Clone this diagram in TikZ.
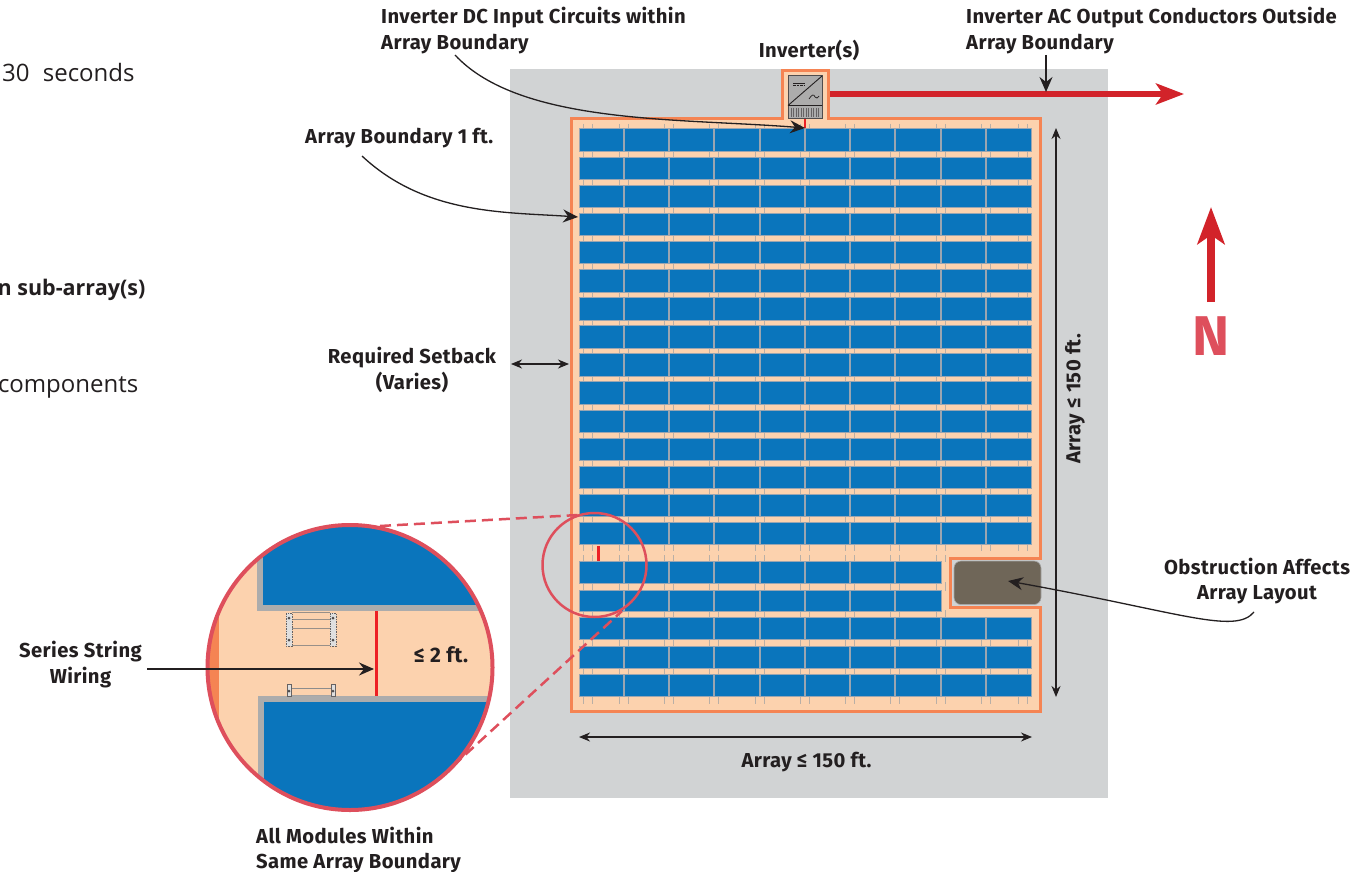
\documentclass[tikz,border=0pt]{standalone}
\usepackage{fontspec}
\setmainfont{Open Sans}
\newfontfamily\lblfont[LetterSpace=2]{Fira Sans}
\usetikzlibrary{arrows.meta}
\definecolor{ground}{HTML}{D1D3D4}
\definecolor{peach}{HTML}{FCD2AE}
\definecolor{bound}{HTML}{F58453}
\definecolor{panel}{HTML}{0A75BC}
\definecolor{pedge}{HTML}{9AA5B1}
\definecolor{wire}{HTML}{ED2024}
\definecolor{acred}{HTML}{D2232A}
\definecolor{rose}{HTML}{DE4F5C}
\definecolor{obst}{HTML}{6F6658}
\definecolor{ink}{HTML}{231F20}
\definecolor{tickc}{HTML}{B9AFA6}
\tikzset{
  lbl/.style={font=\lblfont\bfseries\fontsize{20.2}{25.5}\selectfont,text=ink,inner sep=0pt,align=center},
  lbll/.style={lbl,align=left},
  para/.style={font=\fontsize{24}{27}\selectfont,text=ink,inner sep=0pt},
  leader/.style={draw=ink,line width=1.3pt,-{Stealth[length=15pt,width=13pt,inset=5pt]}},
  dbl/.style={draw=ink,line width=1.1pt,{Stealth[length=11pt,width=9pt,inset=3.5pt]}-{Stealth[length=11pt,width=9pt,inset=3.5pt]}},
  pnl/.style={fill=panel,draw=pedge,line width=1pt},
  clip tick/.style={draw=tickc,line width=0.9pt},
  dashrose/.style={draw=rose,line width=2.5pt,dash pattern=on 11pt off 6pt},
}
\begin{document}
\begin{tikzpicture}[x=1pt,y=-1pt]
\useasboundingbox (0,0) rectangle (1370,872);
\fill[white] (0,0) rectangle (1370,872);
% ground
\fill[ground] (510,69) rectangle (1108,798);
% array boundary
\draw[fill=peach,draw=bound,line width=3pt,miter limit=4]
  (571,119) -- (782,119) -- (782,71) -- (828,71) -- (828,119) -- (1040,119) -- (1040,558)
  -- (950,558) -- (950,607) -- (1040,607) -- (1040,711) -- (571,711) -- cycle;
% obstruction
\draw[fill=obst,draw=gray!70,line width=0.6pt,rounded corners=7pt] (954,561) rectangle (1041,604.5);
% module clips in the row gaps (drawn beneath the panels)
\foreach \yt/\yb in {124/130,
  150/158,178/186,206/214,234/242,262/270,290/298,318/326,
  346/354,374/382,402/410,430/438,458/466,486/494,515/523,
  545/551,638/647,667/675,696/704} {
  \foreach \cx in {588,624,669,714,760,805,850,895,941,986,1023} {
    \draw[clip tick] (\cx-4.2,\yt) -- (\cx-4.2,\yb) (\cx+4.2,\yt) -- (\cx+4.2,\yb);
  }
}
\foreach \yt/\yb in {555/562,582/591,610/618} {
  \foreach \cx in {588,624,669,714,760,805,850,895,941} {
    \draw[clip tick] (\cx-4.2,\yt) -- (\cx-4.2,\yb) (\cx+4.2,\yt) -- (\cx+4.2,\yb);
  }
}
% panels
\newcommand{\panelrow}[3]{%
  \draw[pnl] (579,#1) rectangle (#3,#2);
  \foreach \vx in {624,669,714,760,805,850,895,941,986} {
    \ifdim\vx pt<#3pt \draw[draw=pedge,line width=1.1pt] (\vx,#1) -- (\vx,#2); \fi
  }
}
\foreach \r in {0,...,14} {
  \pgfmathsetmacro{\ya}{129+28.1*\r}
  \pgfmathsetmacro{\yb}{\ya+22.5}
  \panelrow{\ya}{\yb}{1031}
}
\foreach \ya/\yb/\xe in {561.5/583/941,590/611.5/941,617/639.5/1031,646/668/1031,674/696.5/1031} {
  \panelrow{\ya}{\yb}{\xe}
}
% small red wires
\draw[wire,line width=2.5pt] (598.5,546) -- (598.5,560.5);
\draw[wire,line width=2.5pt] (805,119) -- (805,128);
% inverter
\draw[fill=gray!65,draw=ink!80,line width=1pt] (788,76) rectangle (822,119);
\draw[ink,line width=0.9pt] (788,105.5) -- (822,105.5) (788,105.5) -- (822,76);
\foreach \tx in {791,793.5,...,819.5} \draw[ink!70,line width=0.7pt] (\tx,108) -- (\tx,117);
\draw[ink,line width=0.7pt] (793,83) -- (805,83);
\draw[ink,line width=0.7pt,dash pattern=on 2.5pt off 1pt] (793,85.5) -- (805,85.5);
\draw[ink,line width=0.7pt] (809,99) .. controls (812,94) and (814,94) .. (815,97) .. controls (816,99) and (818,98) .. (819,96);
% AC output arrow
\coordinate (acs) at (830,94);
\coordinate (ace) at (1184,94);
\draw[acred,line width=5.3pt,-{Stealth[length=28pt,width=21pt,inset=7pt]}] (acs) -- (ace);
% north arrow
\coordinate (ns) at (1211,302);
\coordinate (ne) at (1211,207);
\draw[acred,line width=8pt,-{Stealth[length=37pt,width=27pt,inset=9pt]}] (ns) -- (ne);
\node[inner sep=0pt,text=rose,font=\lblfont\bfseries\fontsize{56}{56}\selectfont] (north) at (1211.5,336) {N};
% small circle
\draw[rose,line width=2.5pt] (594.5,565) circle (52);
% dashed connectors
\coordinate (da1) at (380,526);
\coordinate (da2) at (578,515);
\coordinate (db1) at (453,766);
\coordinate (db2) at (622,611);
\draw[dashrose] (da1) -- (da2);
\draw[dashrose] (db1) -- (db2);
% inset
\begin{scope}
\clip (350,667.5) circle (142.5);
\fill[peach] (200,520) rectangle (500,815);
\fill[bound] (200,520) rectangle (219,815);
\fill[gray!65] (257,520) rectangle (500,611);
\fill[panel] (262.5,520) rectangle (500,605);
\fill[gray!65] (258,696) rectangle (500,815);
\fill[panel] (263.5,701.5) rectangle (500,815);
\draw[wire,line width=2.5pt] (376.5,611) -- (376.5,696);
% clip hardware
\foreach \cy in {612,619,628,645} \draw[gray!80!peach,line width=0.8pt] (292,\cy) -- (330,\cy);
\draw[gray!90,line width=0.8pt] (291,688) -- (331,688);
\draw[gray!70,line width=0.8pt] (291,695) -- (331,695);
\foreach \cx in {289,333} {
  \draw[ink!70,line width=0.5pt,fill=gray!25,dash pattern=on 1.5pt off 1pt] (\cx-3,613) rectangle (\cx+3,646);
  \fill[ink!80] (\cx,618) circle (1.5) (\cx,640) circle (1.5);
  \draw[ink!70,line width=0.5pt,fill=gray!25] (\cx-2,684.5) rectangle (\cx+2,696);
  \fill[ink!80] (\cx,691) circle (1.5);
}
\end{scope}
\draw[rose,line width=4pt] (350,667.5) circle (142.5);
\node[lbl,font=\lblfont\bfseries\fontsize{21}{24}\selectfont] (ltwo) at (441,655) {≤ 2 ft.};
% labels
\node[lbll,anchor=north west] (dcin) at (381,7) {Inverter DC Input Circuits within\\Array Boundary};
\node[lbl] (inv) at (809,50) {Inverter(s)};
\node[lbll,anchor=north west] (acout) at (966,7) {Inverter AC Output Conductors Outside\\Array Boundary};
\node[lbl,anchor=west] (ab1) at (305,138.5) {Array Boundary 1 ft.};
\node[lbl] (setb) at (412,370) {Required Setback\\(Varies)};
\node[lbl,rotate=90] (av) at (1075,399) {Array ≤ 150 ft.};
\node[lbl] (ah) at (806.5,762) {Array ≤ 150 ft.};
\node[lbl] (obl) at (1257,581) {Obstruction Affects\\Array Layout};
\node[lbl] (ssw) at (80.5,664.5) {Series String\\Wiring};
\node[lbll,anchor=north west] (allm) at (256,826.5) {All Modules Within\\Same Array Boundary};
\node[para,anchor=west] (p1) at (2,72.5) {30\hspace{0.55em}seconds};
\node[para,anchor=east,font=\bfseries\fontsize{21.5}{25}\selectfont] (p2) at (145.5,290) {n sub-array(s)};
\node[para,anchor=east] (p3) at (138.5,387.5) {components};
% leaders
\coordinate (c1s) at (455,55); \coordinate (c1e) at (805,128);
\draw[leader] (c1s) .. controls (520,125) and (680,118) .. (c1e);
\coordinate (c2s) at (362,156); \coordinate (c2e) at (578,217);
\draw[leader] (c2s) .. controls (425,215) and (505,212) .. (c2e);
\coordinate (c3s) at (1046,55); \coordinate (c3e) at (1046,92);
\draw[leader] (c3s) -- (c3e);
\coordinate (c4s) at (1254,612); \coordinate (c4e) at (1008,581);
\draw[leader] (c4s) .. controls (1235,635) and (1180,612) .. (c4e);
\coordinate (c5s) at (147,669); \coordinate (c5e) at (374,669);
\draw[leader] (c5s) -- (c5e);
% dimensions
\coordinate (d1a) at (511,364); \coordinate (d1b) at (569,364);
\draw[dbl] (d1a) -- (d1b);
\coordinate (d2a) at (1056,128); \coordinate (d2b) at (1056,697);
\draw[dbl] (d2a) -- (d2b);
\coordinate (d3a) at (579,737); \coordinate (d3b) at (1032,737);
\draw[dbl] (d3a) -- (d3b);
\end{tikzpicture}
\end{document}
